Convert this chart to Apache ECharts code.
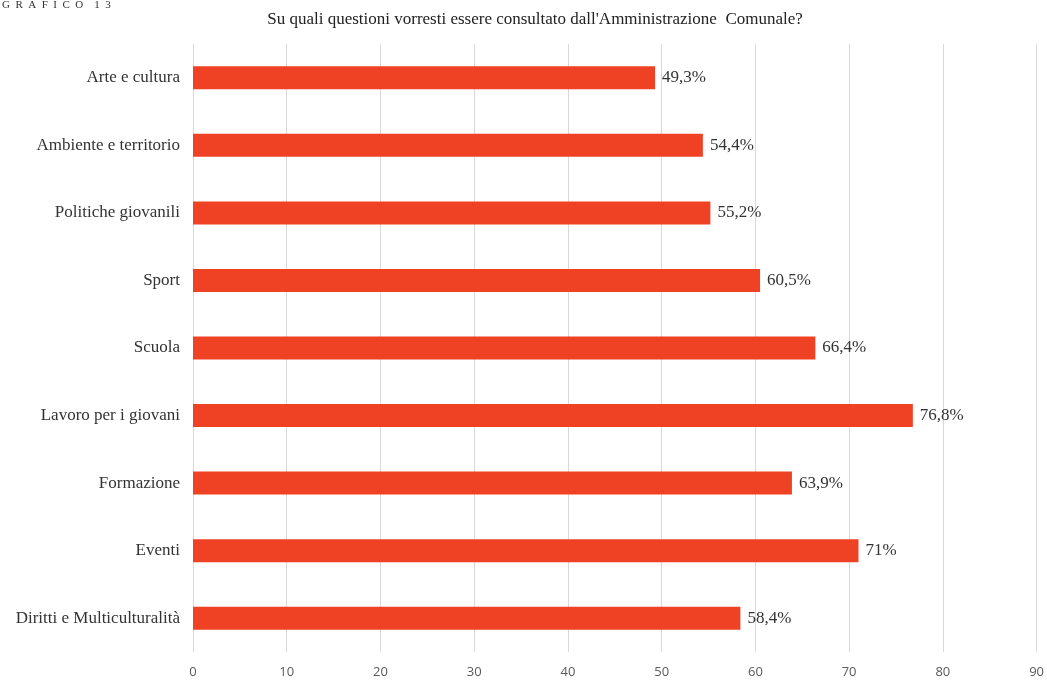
<!DOCTYPE html>
<html><head><meta charset="utf-8">
<script src="https://cdn.jsdelivr.net/npm/echarts@6/dist/echarts.min.js"></script>
<style>html,body{margin:0;padding:0;background:#fff}#c{width:1047px;height:680px}</style>
</head><body><div id="c"></div>
<script>
const categories = ["Arte e cultura","Ambiente e territorio","Politiche giovanili","Sport","Scuola","Lavoro per i giovani","Formazione","Eventi","Diritti e Multiculturalità"];
const values = [49.3, 54.4, 55.2, 60.5, 66.4, 76.8, 63.9, 71, 58.4];
const valueLabels = ["49,3%","54,4%","55,2%","60,5%","66,4%","76,8%","63,9%","71%","58,4%"];
const xTicks = [0,10,20,30,40,50,60,70,80,90];
const titleText = "Su quali questioni vorresti essere consultato dall'Amministrazione  Comunale?";
const captionText = "G  R  A  F  I  C  O    1  3";

const chart = echarts.init(document.getElementById('c'));
chart.setOption({
  animation: false,
  backgroundColor: '#fff',
  title: {
    text: titleText, left: 530, top: 6, textAlign: 'center',
    textStyle: {fontFamily: 'Liberation Serif', fontSize: 17, fontWeight: 'normal', color: '#222'}
  },
  graphic: [{type: 'text', left: 2, top: 0, style: {text: captionText, font: '11px "Liberation Serif"', fill: '#333'}}],
  grid: {left: 193, right: 10, top: 44, bottom: 28, containLabel: false},
  xAxis: {
    type: 'value', min: xTicks[0], max: xTicks[xTicks.length-1], interval: 10,
    axisLine: {show: false}, axisTick: {show: false},
    splitLine: {lineStyle: {color: '#d9d9d9', width: 1}},
    axisLabel: {fontFamily: 'Open Sans', fontSize: 13, color: '#595959', margin: 14}
  },
  yAxis: {
    type: 'category', data: categories, inverse: true,
    axisLine: {show: false}, axisTick: {show: false},
    axisLabel: {fontFamily: 'Liberation Serif', fontSize: 17, color: '#333', margin: 13}
  },
  series: [{
    type: 'bar', data: values, barWidth: 23,
    itemStyle: {color: '#EF4123'},
    label: {show: true, position: 'right', distance: 7,
      formatter: p => valueLabels[p.dataIndex],
      fontFamily: 'Liberation Serif', fontSize: 17, color: '#333'}
  }]
});
</script></body></html>
